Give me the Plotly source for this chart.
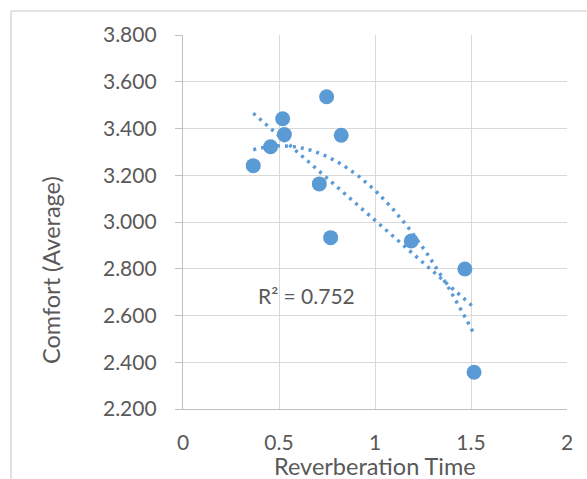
import numpy as np
import plotly.graph_objects as go

# Data
reverb_time = [0.366, 0.456, 0.519, 0.528, 0.748, 0.824, 0.710, 0.769, 1.189, 1.468, 1.516]
comfort_avg = [3.241, 3.322, 3.442, 3.374, 3.536, 3.371, 3.163, 2.933, 2.919, 2.799, 2.357]
x_ticks = [0, 0.5, 1, 1.5, 2]
x_tick_text = ["0", "0.5", "1", "1.5", "2"]
y_ticks = [2.2, 2.4, 2.6, 2.8, 3.0, 3.2, 3.4, 3.6, 3.8]
r2_label = "R² = 0.752"

BLUE = "#5B9BD5"
GRID = "#d9d9d9"
TXT = "#595959"
FONT = "Lato"

x = np.array(reverb_time)
y = np.array(comfort_avg)

# Trendlines (least squares, like the spreadsheet trendlines)
lin = np.polyfit(x, y, 1)
quad = np.polyfit(x, y, 2)
xl = np.array([x.min(), x.max()])
xq = np.linspace(x.min(), x.max(), 120)

fig = go.Figure()
fig.add_trace(go.Scatter(x=reverb_time, y=comfort_avg, mode="markers",
                         marker=dict(size=15, color=BLUE), showlegend=False))
fig.add_trace(go.Scatter(x=xl, y=np.polyval(lin, xl), mode="lines",
                         line=dict(color=BLUE, width=3.5, dash="3px,5px"), showlegend=False))
fig.add_trace(go.Scatter(x=xq, y=np.polyval(quad, xq), mode="lines",
                         line=dict(color=BLUE, width=3.5, dash="3px,5px"), showlegend=False))

W, H = 587, 479
L, R, T, B = 183, 20, 35, 70
pw, ph = W - L - R, H - T - B

def px(xp):
    return (xp - L) / pw

def py(yp):
    return (H - B - yp) / ph

fig.update_layout(
    width=W, height=H,
    margin=dict(l=L, r=R, t=T, b=B),
    paper_bgcolor="white", plot_bgcolor="white",
    font=dict(family=FONT, color=TXT, size=21),
    xaxis=dict(range=[0, 2], tickvals=x_ticks, ticktext=x_tick_text,
               showgrid=True, gridcolor=GRID, gridwidth=1.3,
               showline=True, linecolor="#bfbfbf", linewidth=1.3,
               ticks="", ticklabelstandoff=15, zeroline=False,
               tickfont=dict(family=FONT, size=21, color=TXT)),
    yaxis=dict(range=[2.2, 3.8], tickvals=y_ticks, tickformat=".3f",
               showgrid=True, gridcolor=GRID, gridwidth=1.3,
               showline=True, linecolor="#bfbfbf", linewidth=1.3,
               ticks="outside", ticklen=7, tickcolor="#bfbfbf", tickwidth=1.3,
               ticklabelstandoff=14, zeroline=False,
               tickfont=dict(family=FONT, size=21, color=TXT)),
    annotations=[
        dict(text=r2_label, x=0.381, y=2.684, xref="x", yref="y",
             xanchor="left", yanchor="middle", showarrow=False,
             font=dict(family=FONT, size=21, color=TXT)),
        dict(text="Reverberation Time", x=px(375), y=py(466), xref="paper", yref="paper",
             xanchor="center", yanchor="middle", showarrow=False,
             font=dict(family=FONT, size=23.5, color=TXT)),
        dict(text="Comfort (Average)", x=px(51), y=py(270), xref="paper", yref="paper",
             xanchor="center", yanchor="middle", showarrow=False, textangle=-90,
             font=dict(family=FONT, size=23.5, color=TXT)),
    ],
    shapes=[
        dict(type="line", xref="paper", yref="paper", x0=px(11), x1=px(600),
             y0=py(11), y1=py(11), line=dict(color=GRID, width=1.5)),
        dict(type="line", xref="paper", yref="paper", x0=px(11), x1=px(11),
             y0=py(11), y1=py(490), line=dict(color=GRID, width=1.5)),
    ],
)

fig.write_html("out.html")
